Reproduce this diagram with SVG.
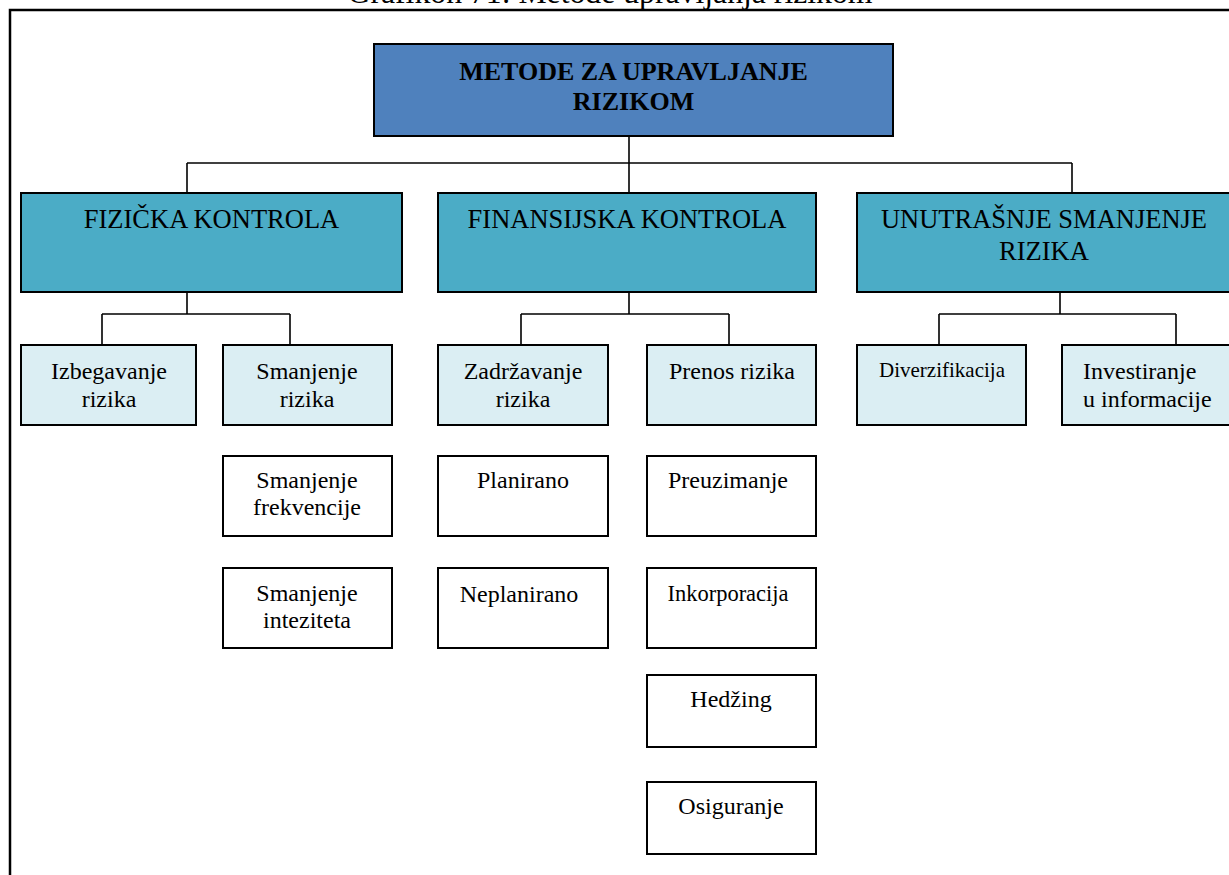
<svg xmlns="http://www.w3.org/2000/svg" width="1229" height="875" viewBox="0 0 1229 875">
  <style>
    text { font-family: "Liberation Serif", "Times New Roman", serif; fill: #000; text-anchor: middle; }
    text.left { text-anchor: start; }
    .box { stroke: #000; stroke-width: 2; }
    .root { fill: #4F81BD; }
    .l2 { fill: #4BACC6; }
    .l3 { fill: #DBEEF3; }
    .l4 { fill: #FFFFFF; }
    .t1 { font-size: 26px; font-weight: bold; }
    .t2 { font-size: 26.5px; }
    .t3 { font-size: 24px; }
    .conn { fill: none; stroke: #000; stroke-width: 1.6; }
  </style>
  <rect width="1229" height="875" fill="#FFFFFF"/>

  <!-- caption, clipped by the page top -->
  <text x="610" y="3" font-size="31" textLength="525" lengthAdjust="spacingAndGlyphs">Grafikon 71: Metode upravljanja rizikom</text>

  <!-- outer frame -->
  <path d="M10,880 V10 H1235" fill="none" stroke="#000" stroke-width="2.5"/>

  <!-- connectors -->
  <g id="connectors" class="conn">
    <path d="M629,136 V193"/>
    <path d="M187,163 H1072"/>
    <path d="M187,163 V193"/>
    <path d="M1072,163 V193"/>
    <path d="M187,292 V314 M102,314 H290 M102,314 V345 M290,314 V345"/>
    <path d="M629,292 V314 M521,314 H729 M521,314 V345 M729,314 V345"/>
    <path d="M1060,292 V314 M939,314 H1176 M939,314 V345 M1176,314 V345"/>
  </g>

  <!-- root -->
  <g id="node-root">
    <rect class="box root" x="374" y="44" width="519" height="92"/>
    <text class="t1" x="633.5" y="80">METODE ZA UPRAVLJANJE</text>
    <text class="t1" x="633.5" y="110">RIZIKOM</text>
  </g>

  <!-- second level -->
  <g id="node-fizicka">
    <rect class="box l2" x="21" y="193" width="381" height="99"/>
    <text class="t2" x="211.5" y="228">FIZIČKA KONTROLA</text>
  </g>
  <g id="node-finansijska">
    <rect class="box l2" x="438" y="193" width="378" height="99"/>
    <text class="t2" x="627" y="228">FINANSIJSKA KONTROLA</text>
  </g>
  <g id="node-unutrasnje">
    <rect class="box l2" x="857" y="193" width="385" height="99"/>
    <text class="t2" x="1044" y="228">UNUTRAŠNJE SMANJENJE</text>
    <text class="t2" x="1044" y="260">RIZIKA</text>
  </g>

  <!-- third level -->
  <g id="node-izbegavanje">
    <rect class="box l3" x="21" y="345" width="175" height="80"/>
    <text class="t3" x="109" y="379">Izbegavanje</text>
    <text class="t3" x="109" y="407">rizika</text>
  </g>
  <g id="node-smanjenje">
    <rect class="box l3" x="223" y="345" width="169" height="80"/>
    <text class="t3" x="307" y="379">Smanjenje</text>
    <text class="t3" x="307" y="407">rizika</text>
  </g>
  <g id="node-zadrzavanje">
    <rect class="box l3" x="438" y="345" width="170" height="80"/>
    <text class="t3" x="523" y="379">Zadržavanje</text>
    <text class="t3" x="523" y="407">rizika</text>
  </g>
  <g id="node-prenos">
    <rect class="box l3" x="647" y="345" width="169" height="80"/>
    <text class="t3" x="732" y="379">Prenos rizika</text>
  </g>
  <g id="node-diverzifikacija">
    <rect class="box l3" x="857" y="345" width="169" height="80"/>
    <text x="942" y="377" font-size="21">Diverzifikacija</text>
  </g>
  <g id="node-investiranje">
    <rect class="box l3" x="1062" y="345" width="180" height="80"/>
    <text class="t3 left" x="1083" y="379">Investiranje</text>
    <text class="t3 left" x="1083" y="407">u informacije</text>
  </g>

  <!-- fourth level -->
  <g id="node-frekvencija">
    <rect class="box l4" x="223" y="456" width="169" height="80"/>
    <text class="t3" x="307" y="488">Smanjenje</text>
    <text class="t3" x="307" y="515">frekvencije</text>
  </g>
  <g id="node-intenzitet">
    <rect class="box l4" x="223" y="568" width="169" height="80"/>
    <text class="t3" x="307" y="601">Smanjenje</text>
    <text class="t3" x="307" y="628">inteziteta</text>
  </g>
  <g id="node-planirano">
    <rect class="box l4" x="438" y="456" width="170" height="80"/>
    <text class="t3" x="523" y="488">Planirano</text>
  </g>
  <g id="node-neplanirano">
    <rect class="box l4" x="438" y="568" width="170" height="80"/>
    <text class="t3" x="519" y="602">Neplanirano</text>
  </g>
  <g id="node-preuzimanje">
    <rect class="box l4" x="647" y="456" width="169" height="80"/>
    <text class="t3" x="728" y="488">Preuzimanje</text>
  </g>
  <g id="node-inkorporacija">
    <rect class="box l4" x="647" y="568" width="169" height="80"/>
    <text x="728" y="601" font-size="22.5">Inkorporacija</text>
  </g>
  <g id="node-hedzing">
    <rect class="box l4" x="647" y="675" width="169" height="72"/>
    <text class="t3" x="731" y="707">Hedžing</text>
  </g>
  <g id="node-osiguranje">
    <rect class="box l4" x="647" y="782" width="169" height="72"/>
    <text class="t3" x="731" y="814">Osiguranje</text>
  </g>
</svg>
